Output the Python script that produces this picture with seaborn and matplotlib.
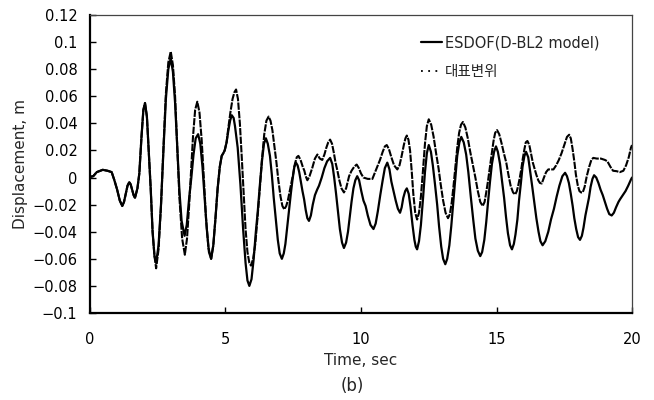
import matplotlib
matplotlib.use("Agg")
import matplotlib.pyplot as plt
from matplotlib.lines import Line2D
import seaborn as sns
import pandas as pd

# ESDOF (D-BL2 model) displacement history
t_esdof = [
    0.00, 0.12, 0.25, 0.47, 0.65, 0.80, 0.90, 1.00, 1.10, 1.19,
    1.255, 1.32, 1.385, 1.45, 1.50, 1.555, 1.61, 1.66, 1.75, 1.82,
    1.90, 1.97, 2.03, 2.10, 2.17, 2.24, 2.31, 2.38, 2.44, 2.53,
    2.62, 2.71, 2.80, 2.89, 2.98, 3.06, 3.14, 3.22, 3.30, 3.38,
    3.49, 3.57, 3.66, 3.74, 3.82, 3.90, 3.99, 4.07, 4.15, 4.23,
    4.31, 4.39, 4.47, 4.55, 4.63, 4.71, 4.79, 4.86, 4.92, 4.97,
    5.04, 5.10, 5.17, 5.23, 5.30, 5.35, 5.45, 5.55, 5.65, 5.74,
    5.81, 5.88, 5.96, 6.04, 6.12, 6.19, 6.27, 6.35, 6.42, 6.49,
    6.56, 6.64, 6.71, 6.78, 6.86, 6.93, 7.00, 7.08, 7.15, 7.21,
    7.28, 7.34, 7.41, 7.47, 7.54, 7.60, 7.66, 7.72, 7.78, 7.84,
    7.90, 7.96, 8.02, 8.08, 8.15, 8.22, 8.30, 8.38, 8.45, 8.55,
    8.65, 8.75, 8.86, 8.94, 9.01, 9.08, 9.15, 9.22, 9.30, 9.37,
    9.45, 9.52, 9.58, 9.65, 9.72, 9.79, 9.86, 9.93, 10.01, 10.09,
    10.17, 10.25, 10.35, 10.46, 10.54, 10.62, 10.71, 10.80, 10.88, 10.97,
    11.05, 11.12, 11.20, 11.28, 11.36, 11.44, 11.50, 11.56, 11.63, 11.69,
    11.76, 11.83, 11.90, 11.97, 12.02, 12.07, 12.14, 12.21, 12.29, 12.36,
    12.43, 12.50, 12.58, 12.65, 12.73, 12.81, 12.88, 12.96, 13.03, 13.11,
    13.18, 13.26, 13.33, 13.41, 13.48, 13.55, 13.63, 13.70, 13.79, 13.88,
    13.96, 14.05, 14.14, 14.22, 14.31, 14.40, 14.47, 14.55, 14.62, 14.69,
    14.76, 14.83, 14.91, 14.98, 15.05, 15.13, 15.20, 15.28, 15.35, 15.42,
    15.50, 15.57, 15.64, 15.70, 15.77, 15.83, 15.90, 15.96, 16.03, 16.09,
    16.17, 16.24, 16.32, 16.40, 16.47, 16.55, 16.62, 16.70, 16.80, 16.91,
    17.01, 17.12, 17.22, 17.32, 17.43, 17.53, 17.60, 17.67, 17.74, 17.81,
    17.87, 17.94, 18.01, 18.08, 18.15, 18.21, 18.28, 18.34, 18.41, 18.47,
    18.54, 18.60, 18.68, 18.76, 18.84, 18.92, 19.00, 19.08, 19.16, 19.25,
    19.33, 19.41, 19.50, 19.56, 19.66, 19.76, 19.86, 19.96, 20.00,
]
d_esdof = [
    0.0005, 0.001, 0.004, 0.0057, 0.005, 0.004, -0.002, -0.0088, -0.017, -0.021,
    -0.018, -0.012, -0.006, -0.0034, -0.005, -0.009, -0.013, -0.015, -0.008, 0.003,
    0.030, 0.050, 0.055, 0.045, 0.018, -0.008, -0.040, -0.058, -0.063, -0.050,
    -0.020, 0.020, 0.058, 0.080, 0.088, 0.078, 0.055, 0.022, -0.010, -0.032,
    -0.043, -0.035, -0.015, 0.000, 0.017, 0.029, 0.032, 0.025, 0.008, -0.015,
    -0.038, -0.055, -0.060, -0.050, -0.030, -0.008, 0.008, 0.016, 0.018, 0.020,
    0.026, 0.034, 0.042, 0.046, 0.044, 0.038, 0.022, -0.005, -0.038, -0.063,
    -0.076, -0.080, -0.075, -0.060, -0.040, -0.025, -0.005, 0.013, 0.025, 0.029,
    0.025, 0.016, 0.002, -0.015, -0.032, -0.046, -0.056, -0.060, -0.056, -0.049,
    -0.036, -0.0245, -0.012, -0.002, 0.008, 0.011, 0.009, 0.004, -0.003, -0.010,
    -0.016, -0.024, -0.030, -0.032, -0.028, -0.020, -0.013, -0.009, -0.006, 0.000,
    0.007, 0.012, 0.0145, 0.010, 0.000, -0.012, -0.025, -0.038, -0.048, -0.052,
    -0.048, -0.040, -0.030, -0.018, -0.008, -0.002, 0.001, -0.002, -0.010, -0.017,
    -0.021, -0.028, -0.035, -0.038, -0.034, -0.025, -0.013, -0.002, 0.007, 0.011,
    0.006, -0.003, -0.010, -0.017, -0.023, -0.026, -0.022, -0.015, -0.010, -0.008,
    -0.012, -0.022, -0.035, -0.046, -0.051, -0.053, -0.047, -0.035, -0.015, 0.004,
    0.018, 0.024, 0.019, 0.009, -0.005, -0.020, -0.036, -0.051, -0.060, -0.064,
    -0.060, -0.050, -0.036, -0.017, 0.000, 0.016, 0.026, 0.030, 0.026, 0.017,
    0.004, -0.014, -0.031, -0.045, -0.054, -0.058, -0.055, -0.046, -0.033, -0.0175,
    -0.003, 0.010, 0.019, 0.023, 0.019, 0.010, -0.002, -0.015, -0.029, -0.041,
    -0.050, -0.053, -0.049, -0.042, -0.031, -0.017, -0.004, 0.008, 0.016, 0.019,
    0.015, 0.005, -0.007, -0.019, -0.030, -0.040, -0.047, -0.050, -0.047, -0.040,
    -0.031, -0.023, -0.014, -0.006, 0.001, 0.0035, 0.001, -0.004, -0.012, -0.021,
    -0.030, -0.038, -0.044, -0.046, -0.043, -0.037, -0.028, -0.022, -0.015, -0.007,
    -0.001, 0.0017, 0.000, -0.004, -0.009, -0.013, -0.018, -0.023, -0.027, -0.028,
    -0.026, -0.022, -0.018, -0.016, -0.013, -0.010, -0.006, -0.0015, 0.000,
]

# Representative displacement (대표변위) history
t_rep = [
    0.00, 0.12, 0.25, 0.47, 0.65, 0.80, 0.90, 1.00, 1.10, 1.19,
    1.255, 1.32, 1.385, 1.45, 1.50, 1.555, 1.61, 1.66, 1.75, 1.82,
    1.90, 1.97, 2.03, 2.10, 2.17, 2.24, 2.31, 2.38, 2.44, 2.53,
    2.62, 2.71, 2.80, 2.89, 2.98, 3.06, 3.14, 3.22, 3.30, 3.40,
    3.50, 3.58, 3.66, 3.73, 3.80, 3.88, 3.96, 4.04, 4.12, 4.20,
    4.28, 4.37, 4.47, 4.55, 4.63, 4.71, 4.79, 4.86, 4.92, 4.97,
    5.04, 5.10, 5.18, 5.26, 5.33, 5.39, 5.46, 5.53, 5.60, 5.67,
    5.74, 5.81, 5.88, 5.94, 6.02, 6.10, 6.18, 6.26, 6.34, 6.43,
    6.51, 6.59, 6.66, 6.73, 6.81, 6.88, 6.95, 7.03, 7.10, 7.17,
    7.24, 7.30, 7.37, 7.43, 7.50, 7.56, 7.63, 7.69, 7.77, 7.85,
    7.91, 7.96, 8.02, 8.10, 8.20, 8.30, 8.39, 8.48, 8.57, 8.65,
    8.72, 8.79, 8.86, 8.93, 9.00, 9.06, 9.13, 9.20, 9.28, 9.37,
    9.45, 9.56, 9.65, 9.75, 9.84, 9.92, 10.00, 10.09, 10.25, 10.42,
    10.50, 10.60, 10.70, 10.80, 10.88, 10.95, 11.03, 11.12, 11.22, 11.34,
    11.42, 11.50, 11.58, 11.64, 11.69, 11.75, 11.81, 11.87, 11.93, 12.00,
    12.07, 12.14, 12.21, 12.29, 12.36, 12.43, 12.50, 12.59, 12.68, 12.77,
    12.86, 12.94, 13.03, 13.12, 13.21, 13.28, 13.35, 13.42, 13.49, 13.55,
    13.62, 13.69, 13.76, 13.85, 13.94, 14.03, 14.12, 14.22, 14.31, 14.40,
    14.49, 14.56, 14.62, 14.69, 14.75, 14.82, 14.89, 14.95, 15.02, 15.10,
    15.19, 15.27, 15.36, 15.44, 15.52, 15.61, 15.69, 15.75, 15.80, 15.86,
    15.92, 15.97, 16.03, 16.08, 16.14, 16.21, 16.28, 16.34, 16.41, 16.47,
    16.54, 16.60, 16.67, 16.75, 16.83, 16.91, 17.00, 17.10, 17.20, 17.30,
    17.40, 17.50, 17.60, 17.68, 17.74, 17.80, 17.87, 17.93, 18.00, 18.06,
    18.12, 18.18, 18.25, 18.33, 18.42, 18.50, 18.57, 18.70, 18.85, 19.00,
    19.09, 19.20, 19.30, 19.43, 19.55, 19.68, 19.78, 19.88, 19.96, 20.00,
]
d_rep = [
    0.0005, 0.001, 0.004, 0.0057, 0.005, 0.004, -0.002, -0.0088, -0.017, -0.021,
    -0.018, -0.012, -0.006, -0.0034, -0.005, -0.009, -0.013, -0.015, -0.008, 0.003,
    0.030, 0.050, 0.055, 0.045, 0.018, -0.008, -0.040, -0.058, -0.067, -0.053,
    -0.021, 0.022, 0.062, 0.085, 0.093, 0.083, 0.060, 0.022, -0.015, -0.045,
    -0.057, -0.045, -0.020, 0.005, 0.030, 0.050, 0.056, 0.048, 0.028, 0.000,
    -0.030, -0.052, -0.060, -0.050, -0.030, -0.008, 0.008, 0.016, 0.018, 0.020,
    0.026, 0.036, 0.048, 0.058, 0.063, 0.065, 0.058, 0.040, 0.015, -0.012,
    -0.038, -0.055, -0.063, -0.065, -0.060, -0.049, -0.030, -0.010, 0.012, 0.032,
    0.042, 0.045, 0.042, 0.035, 0.022, 0.011, -0.002, -0.014, -0.021, -0.0235,
    -0.021, -0.017, -0.010, -0.004, 0.003, 0.010, 0.015, 0.016, 0.013, 0.008,
    0.005, 0.001, -0.002, 0.001, 0.007, 0.014, 0.017, 0.014, 0.013, 0.017,
    0.022, 0.026, 0.028, 0.025, 0.018, 0.011, 0.005, -0.002, -0.008, -0.011,
    -0.008, 0.001, 0.005, 0.008, 0.0096, 0.007, 0.003, 0.000, -0.001, -0.001,
    0.003, 0.008, 0.013, 0.019, 0.023, 0.024, 0.021, 0.015, 0.009, 0.006,
    0.009, 0.016, 0.024, 0.029, 0.031, 0.028, 0.020, 0.005, -0.012, -0.026,
    -0.031, -0.026, -0.014, 0.006, 0.025, 0.038, 0.043, 0.039, 0.030, 0.018,
    0.007, -0.005, -0.017, -0.026, -0.030, -0.027, -0.018, -0.005, 0.010, 0.022,
    0.033, 0.039, 0.041, 0.037, 0.029, 0.019, 0.010, 0.000, -0.010, -0.018,
    -0.021, -0.018, -0.011, -0.002, 0.007, 0.017, 0.027, 0.033, 0.035, 0.032,
    0.025, 0.018, 0.011, 0.002, -0.006, -0.011, -0.0125, -0.010, -0.006, 0.000,
    0.007, 0.014, 0.021, 0.026, 0.027, 0.024, 0.017, 0.011, 0.006, 0.002,
    -0.002, -0.004, -0.0044, 0.000, 0.004, 0.006, 0.006, 0.006, 0.009, 0.013,
    0.018, 0.024, 0.030, 0.0316, 0.029, 0.022, 0.012, 0.002, -0.006, -0.010,
    -0.011, -0.011, -0.007, 0.001, 0.008, 0.013, 0.0145, 0.014, 0.014, 0.013,
    0.012, 0.008, 0.005, 0.0047, 0.004, 0.005, 0.009, 0.015, 0.022, 0.024,
]

labels = ["ESDOF(D-BL2 model)", "대표변위"]
x_ticks = [0, 5, 10, 15, 20]
y_ticks = [-0.1, -0.08, -0.06, -0.04, -0.02, 0, 0.02, 0.04, 0.06, 0.08, 0.1, 0.12]
y_tick_labels = ["−0.1", "−0.08", "−0.06", "−0.04", "−0.02", "0",
                 "0.02", "0.04", "0.06", "0.08", "0.1", "0.12"]

sns.set_style("ticks")
plt.rcParams["font.family"] = ["DejaVu Sans", "Noto Sans CJK KR"]

esdof = pd.DataFrame({"t": t_esdof, "d": d_esdof})
rep = pd.DataFrame({"t": t_rep, "d": d_rep})

fig = plt.figure(figsize=(6.54, 4.0), dpi=100)
ax = fig.add_axes([0.1376, 0.2175, 0.8288, 0.745])

sns.lineplot(data=esdof, x="t", y="d", ax=ax, color="black", linewidth=1.6,
             sort=False, estimator=None, legend=False)
# finely dotted trace: dense dots that read almost as a continuous line
sns.lineplot(data=rep, x="t", y="d", ax=ax, color="black", linewidth=1.5,
             linestyle=(0, (3.5, 0.6)), sort=False, estimator=None, legend=False)

ax.set_xlim(0, 20)
ax.set_ylim(-0.1, 0.12)
ax.set_xticks(x_ticks)
ax.set_xticklabels([str(v) for v in x_ticks])
ax.set_yticks(y_ticks)
ax.set_yticklabels(y_tick_labels)
ax.tick_params(axis="both", direction="in", length=4, width=1, labelsize=10.5,
               colors="black")
ax.tick_params(axis="x", pad=14)
ax.tick_params(axis="y", pad=9)

for side in ("left", "bottom"):
    ax.spines[side].set_linewidth(1.6)
    ax.spines[side].set_color("black")
for side in ("top", "right"):
    ax.spines[side].set_visible(True)
    ax.spines[side].set_linewidth(0.9)
    ax.spines[side].set_color("#444444")

ax.set_xlabel("Time, sec", fontsize=11, labelpad=4)
ax.set_ylabel("Displacement, m", fontsize=11, labelpad=3)

handles = [
    Line2D([], [], color="black", linewidth=1.6),
    Line2D([], [], color="black", linewidth=1.3, linestyle=(0, (1, 3))),
]
fig.legend(handles, labels, loc="upper left", bbox_to_anchor=(0.643, 0.912),
           frameon=False, fontsize=10.5, handlelength=1.5, handletextpad=0.2,
           labelspacing=0.95, borderpad=0, borderaxespad=0)

fig.text(0.538, 0.035, "(b)", ha="center", va="center", fontsize=12)

fig.savefig("out.png", dpi=100)
